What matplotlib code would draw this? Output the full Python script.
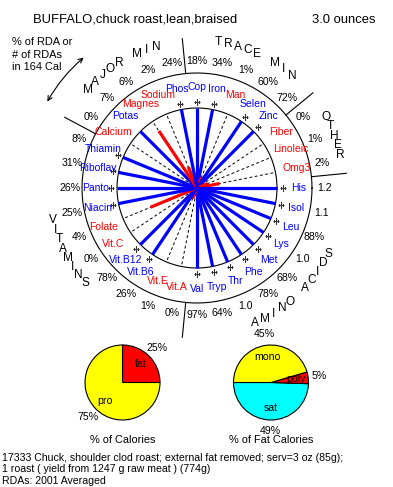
import numpy as np
import matplotlib
matplotlib.use("Agg")
import matplotlib.pyplot as plt

plt.rcParams['font.family'] = ['Liberation Sans', 'DejaVu Sans']

# ---------------- data ----------------
title = "BUFFALO,chuck roast,lean,braised"
serving = "3.0 ounces"
note_lines = ["% of RDA or", "# of RDAs", "in 164 Cal"]

# nutrients clockwise starting at 12 o'clock
nutrients = ["Cop", "Iron", "Man", "Selen", "Zinc",
             "Fiber", "Linoleic", "Omg3",
             "His", "Isol", "Leu", "Lys", "Met", "Phe", "Thr", "Tryp", "Val",
             "Vit.A", "Vit.E", "Vit.B6", "Vit.B12", "Vit.C", "Folate", "Niacin",
             "Panto", "Riboflav", "Thiamin",
             "Calcium", "Potas", "Magnes", "Sodium", "Phos"]
pct_rda = [18, 34, 1, 60, 72,
           0, 1, 2,
           120, 110, 88, 100, 68, 78, 100, 64, 97,
           0, 1, 26, 78, 0, 4.4, 25,
           26, 31, 8,
           0, 7, 6, 2, 24]
cal_share_pct = 7.0   # % of RDA equal to the calorie share (inner circle)

groups = ["TRACE MIN", "OTHER", "AMINO ACIDS", "VITAMINS", "MAJOR MIN"]
group_start = [0, 5, 8, 17, 27]

cal_names = ["fat", "pro"]
cal_pct = [25, 75]
cal_colors = ["#FF0000", "#FFFF00"]

fat_names = ["sat", "poly", "mono"]
fat_pct = [49, 5, 45]
fat_colors = ["#00FFFF", "#FF0000", "#FFFF00"]

footer = ["17333 Chuck, shoulder clod roast; external fat removed; serv=3 oz (85g);",
          "1 roast ( yield from 1247 g raw meat ) (774g)",
          "RDAs: 2001 Averaged"]

# ---------------- layout ----------------
W, H = 393, 487
fig = plt.figure(figsize=(W / 100, H / 100), dpi=100)
fig.patch.set_facecolor("white")

cx, cy, unit = 197, 188, 80.0
rmax = 2.2
R = rmax * unit
ax = fig.add_axes([(cx - R) / W, 1 - (cy + R) / H, 2 * R / W, 2 * R / H], projection="polar")
ax.set_ylim(0, rmax)
ax.axis("off")

BLUE, RED = "#0000FF", "#FF0000"
n = len(nutrients)
step = 360.0 / n
angles = np.deg2rad(90 - np.arange(n) * step)

r_in, r_out = 1.0, 115 / unit
circ = np.linspace(0, 2 * np.pi, 500)
ax.plot(circ, np.full_like(circ, r_in), color="k", lw=0.8)
ax.plot(circ, np.full_like(circ, r_out), color="k", lw=0.8)

for th in angles:
    ax.plot([th, th], [0, r_in], color="k", lw=0.7, ls=(0, (3, 2.5)))

for name, th, p in zip(nutrients, angles, pct_rda):
    ratio = p / cal_share_pct
    col = BLUE if ratio >= 1 else RED
    if ratio > 0:
        ax.plot([th, th], [0, min(ratio, 1.0)], color=col, lw=2.3, solid_capstyle="butt")
    if ratio > 1:
        ax.plot(th, 1.07, marker="+", ms=4.5, mew=0.8, color="#333333")
    ax.text(th, 1.265, name, ha="center", va="center", color=col, fontsize=7.5)
    lab = f"{p / 100:.1f}" if p >= 99.5 else f"{p:.0f}%"
    ax.text(th, 1.59, lab, ha="center", va="center", color="k", fontsize=7.6)

# separators and group names
seps = [90 - s * step + step / 2 for s in group_start]
for s in seps:
    t = np.deg2rad(s)
    ax.plot([t, t], [r_out, 1.875], color="k", lw=0.8)

for gi, g in enumerate(groups):
    a1 = seps[gi]
    a2 = seps[(gi + 1) % len(seps)]
    if a2 > a1:
        a2 -= 360
    mid = (a1 + a2) / 2 - 1.7
    if mid > -180 and mid < -180:
        pass
    upper = np.sin(np.deg2rad(mid)) > -0.2
    k = len(g)
    for j, ch in enumerate(g):
        if ch == " ":
            continue
        if upper:
            a = mid + (k - 1) / 2 * 4 - j * 4
        else:
            a = mid - (k - 1) / 2 * 4 + j * 4
        ax.text(np.deg2rad(a), 1.84, ch, ha="center", va="center", fontsize=8.6)

ax.annotate("", xy=(np.deg2rad(150), 2.16), xytext=(np.deg2rad(131), 2.16),
            arrowprops=dict(arrowstyle="<->", lw=0.8, color="k",
                            connectionstyle="arc3,rad=0.09", shrinkA=0, shrinkB=0,
                            mutation_scale=8))

# ---------------- texts ----------------
fig.text(33 / W, 1 - 20 / H, title, ha="left", va="center", fontsize=9.4)
fig.text(312 / W, 1 - 20 / H, serving, ha="left", va="center", fontsize=9.4)
for i, line in enumerate(note_lines):
    fig.text(12 / W, 1 - (42 + 12.5 * i) / H, line, ha="left", va="center", fontsize=7.9)
for i, line in enumerate(footer):
    fig.text(2 / W, 1 - (458 + 11.5 * i) / H, line, ha="left", va="center", fontsize=7.6)

# ---------------- pies ----------------
def draw_pie(pcx, pcy, pr, vals, names, colors, start, caption):
    pad = 1.1
    pax = fig.add_axes([(pcx - pad * pr) / W, 1 - (pcy + pad * pr) / H,
                        2 * pad * pr / W, 2 * pad * pr / H])
    wedges, _ = pax.pie(vals, colors=colors, startangle=start, counterclock=True,
                        wedgeprops=dict(edgecolor="k", linewidth=0.8))
    pax.set_xlim(-pad, pad)
    pax.set_ylim(-pad, pad)
    pax.set_aspect("equal")
    pax.axis("off")
    for w, v, nm in zip(wedges, vals, names):
        m = np.deg2rad((w.theta1 + w.theta2) / 2)
        pax.text(0.68 * np.cos(m), 0.68 * np.sin(m), nm, ha="center", va="center", fontsize=7.6)
        pax.text(1.3 * np.cos(m), 1.3 * np.sin(m), f"{v}%", ha="center", va="center", fontsize=7.6)
    fig.text(pcx / W, 1 - 440 / H, caption, ha="center", va="center", fontsize=7.9)

draw_pie(122.5, 382.5, 37.5, cal_pct, cal_names, cal_colors, 0, "% of Calories")
draw_pie(271, 382.5, 37.5, fat_pct, fat_names, fat_colors, 180, "% of Fat Calories")

fig.savefig("out.png", dpi=100)
